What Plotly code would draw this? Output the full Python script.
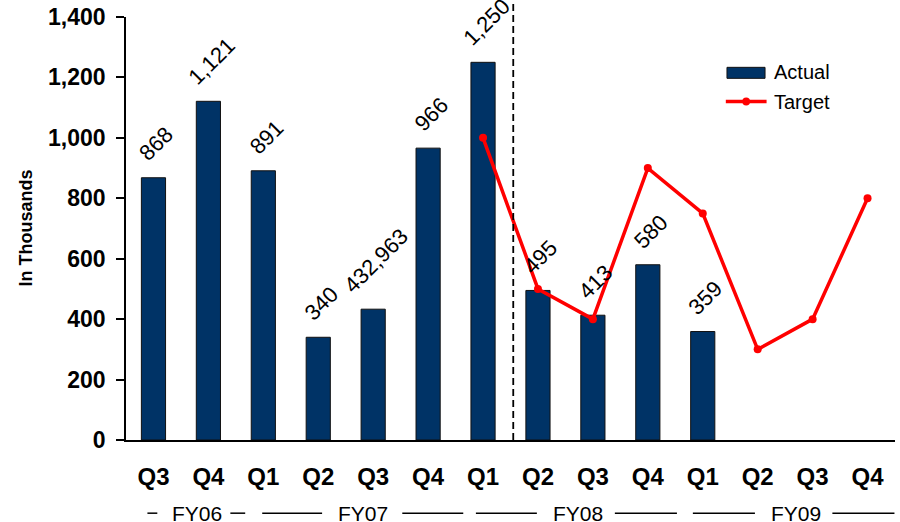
import plotly.graph_objects as go

# Quarter labels along the x axis (FY06 Q3 through FY09 Q4)
quarters = ["Q3", "Q4", "Q1", "Q2", "Q3", "Q4", "Q1", "Q2", "Q3", "Q4", "Q1", "Q2", "Q3", "Q4"]

# Actual results, in thousands (FY06 Q3 .. FY09 Q1)
actual = [868, 1121, 891, 340, 432.963, 966, 1250, 495, 413, 580, 359]

# Target values, in thousands (FY08 Q1 .. FY09 Q4)
target_start = 6
target = [1000, 500, 400, 900, 750, 300, 400, 800]

# Fiscal-year groups: label, label centre, dash segments (in category units)
fy_groups = [
    ("FY06", 0.80, [(-0.11, 0.07), (1.40, 1.67)]),
    ("FY07", 3.82, [(1.98, 3.07), (4.53, 5.64)]),
    ("FY08", 7.73, [(5.87, 6.98), (8.40, 9.53)]),
    ("FY09", 11.69, [(9.82, 10.95), (12.36, 13.49)]),
]

y_ticks = [0, 200, 400, 600, 800, 1000, 1200, 1400]

NAVY = "#003366"
RED = "#ff0000"
FONT = "Liberation Sans, Arial, sans-serif"


def fmt(v):
    if float(v).is_integer():
        return f"{int(v):,}"
    return str(v).replace(".", ",")


x_actual = list(range(len(actual)))
x_target = list(range(target_start, target_start + len(target)))

fig = go.Figure()
fig.add_trace(go.Bar(
    x=x_actual, y=actual, name="Actual", width=0.44,
    marker=dict(color=NAVY, line=dict(color="#111111", width=1)),
    showlegend=False,
))
fig.add_trace(go.Scatter(
    x=x_target, y=target, name="Target", mode="lines+markers",
    line=dict(color=RED, width=3.5), marker=dict(color=RED, size=8),
    showlegend=False, cliponaxis=False,
))

annotations = []
for xi, v in zip(x_actual, actual):
    annotations.append(dict(
        x=xi, y=v, xref="x", yref="y", text=fmt(v), showarrow=False,
        textangle=-45, xanchor="center", yanchor="bottom",
        xshift=3, yshift=9, font=dict(family=FONT, size=22, color="black"),
    ))

shapes = []
for label, cx, segs in fy_groups:
    annotations.append(dict(
        x=cx, y=-0.1726, xref="x", yref="paper", text=label, showarrow=False,
        xanchor="center", yanchor="middle",
        font=dict(family=FONT, size=21, color="black"),
    ))
    for x0, x1 in segs:
        shapes.append(dict(
            type="line", xref="x", yref="paper", x0=x0, x1=x1,
            y0=-0.173, y1=-0.173, line=dict(color="black", width=1.5),
        ))

# Actual / forecast divider
shapes.append(dict(
    type="line", xref="x", yref="paper", x0=6.55, x1=6.55, y0=0, y1=1.04,
    line=dict(color="black", width=1.8, dash="7px,4px"),
))

# Legend
shapes.append(dict(
    type="rect", xref="paper", yref="paper", x0=0.7815, x1=0.831, y0=0.855, y1=0.881,
    fillcolor=NAVY, line=dict(color="#111111", width=1),
))
shapes.append(dict(
    type="line", xref="paper", yref="paper", x0=0.780, x1=0.833, y0=0.800, y1=0.800,
    line=dict(color=RED, width=3.5),
))
shapes.append(dict(
    type="circle", xref="paper", yref="paper", x0=0.8015, x1=0.8115,
    y0=0.7905, y1=0.8095, fillcolor=RED, line=dict(color=RED, width=0),
))
annotations.append(dict(
    x=0.840, y=0.869, xref="paper", yref="paper", text="Actual", showarrow=False,
    xanchor="left", yanchor="middle", font=dict(family=FONT, size=20, color="black"),
))
annotations.append(dict(
    x=0.840, y=0.798, xref="paper", yref="paper", text="Target", showarrow=False,
    xanchor="left", yanchor="middle", font=dict(family=FONT, size=20, color="black"),
))

# Y axis title
annotations.append(dict(
    x=-0.1313, y=0.5, xref="paper", yref="paper", text="<b>In Thousands</b>",
    showarrow=False, textangle=-90, xanchor="center", yanchor="middle",
    font=dict(family=FONT, size=18, color="black"),
))

fig.update_layout(
    width=900, height=522,
    margin=dict(l=126, r=5, t=17, b=82, autoexpand=False),
    paper_bgcolor="white", plot_bgcolor="white",
    font=dict(family=FONT, color="black"),
    xaxis=dict(
        range=[-0.5, 13.5], tickmode="array", tickvals=list(range(len(quarters))),
        ticktext=[f"<b>{q}</b>" for q in quarters], showgrid=False, zeroline=False,
        showline=True, linecolor="black", linewidth=1.5, ticks="", automargin=False,
        ticklabelstandoff=14, tickfont=dict(family=FONT, size=24, color="black"),
    ),
    yaxis=dict(
        range=[0, 1400], tickmode="array", tickvals=y_ticks, automargin=False,
        ticktext=[f"<b>{t:,}</b>" for t in y_ticks], showgrid=False, zeroline=False,
        showline=True, linecolor="black", linewidth=1.5,
        ticks="outside", ticklen=8, tickwidth=1.5, tickcolor="black",
        ticklabelstandoff=6, tickfont=dict(family=FONT, size=23, color="black"),
    ),
    yaxis2=dict(
        range=[0, 1400], overlaying="y", side="left", tickmode="array",
        tickvals=y_ticks, showticklabels=False, showgrid=False, zeroline=False,
        showline=False, ticks="inside", ticklen=7, tickwidth=1.5, tickcolor="black",
        automargin=False,
    ),
    shapes=shapes,
    annotations=annotations,
    bargap=0.5,
)

fig.write_html("out.html")
